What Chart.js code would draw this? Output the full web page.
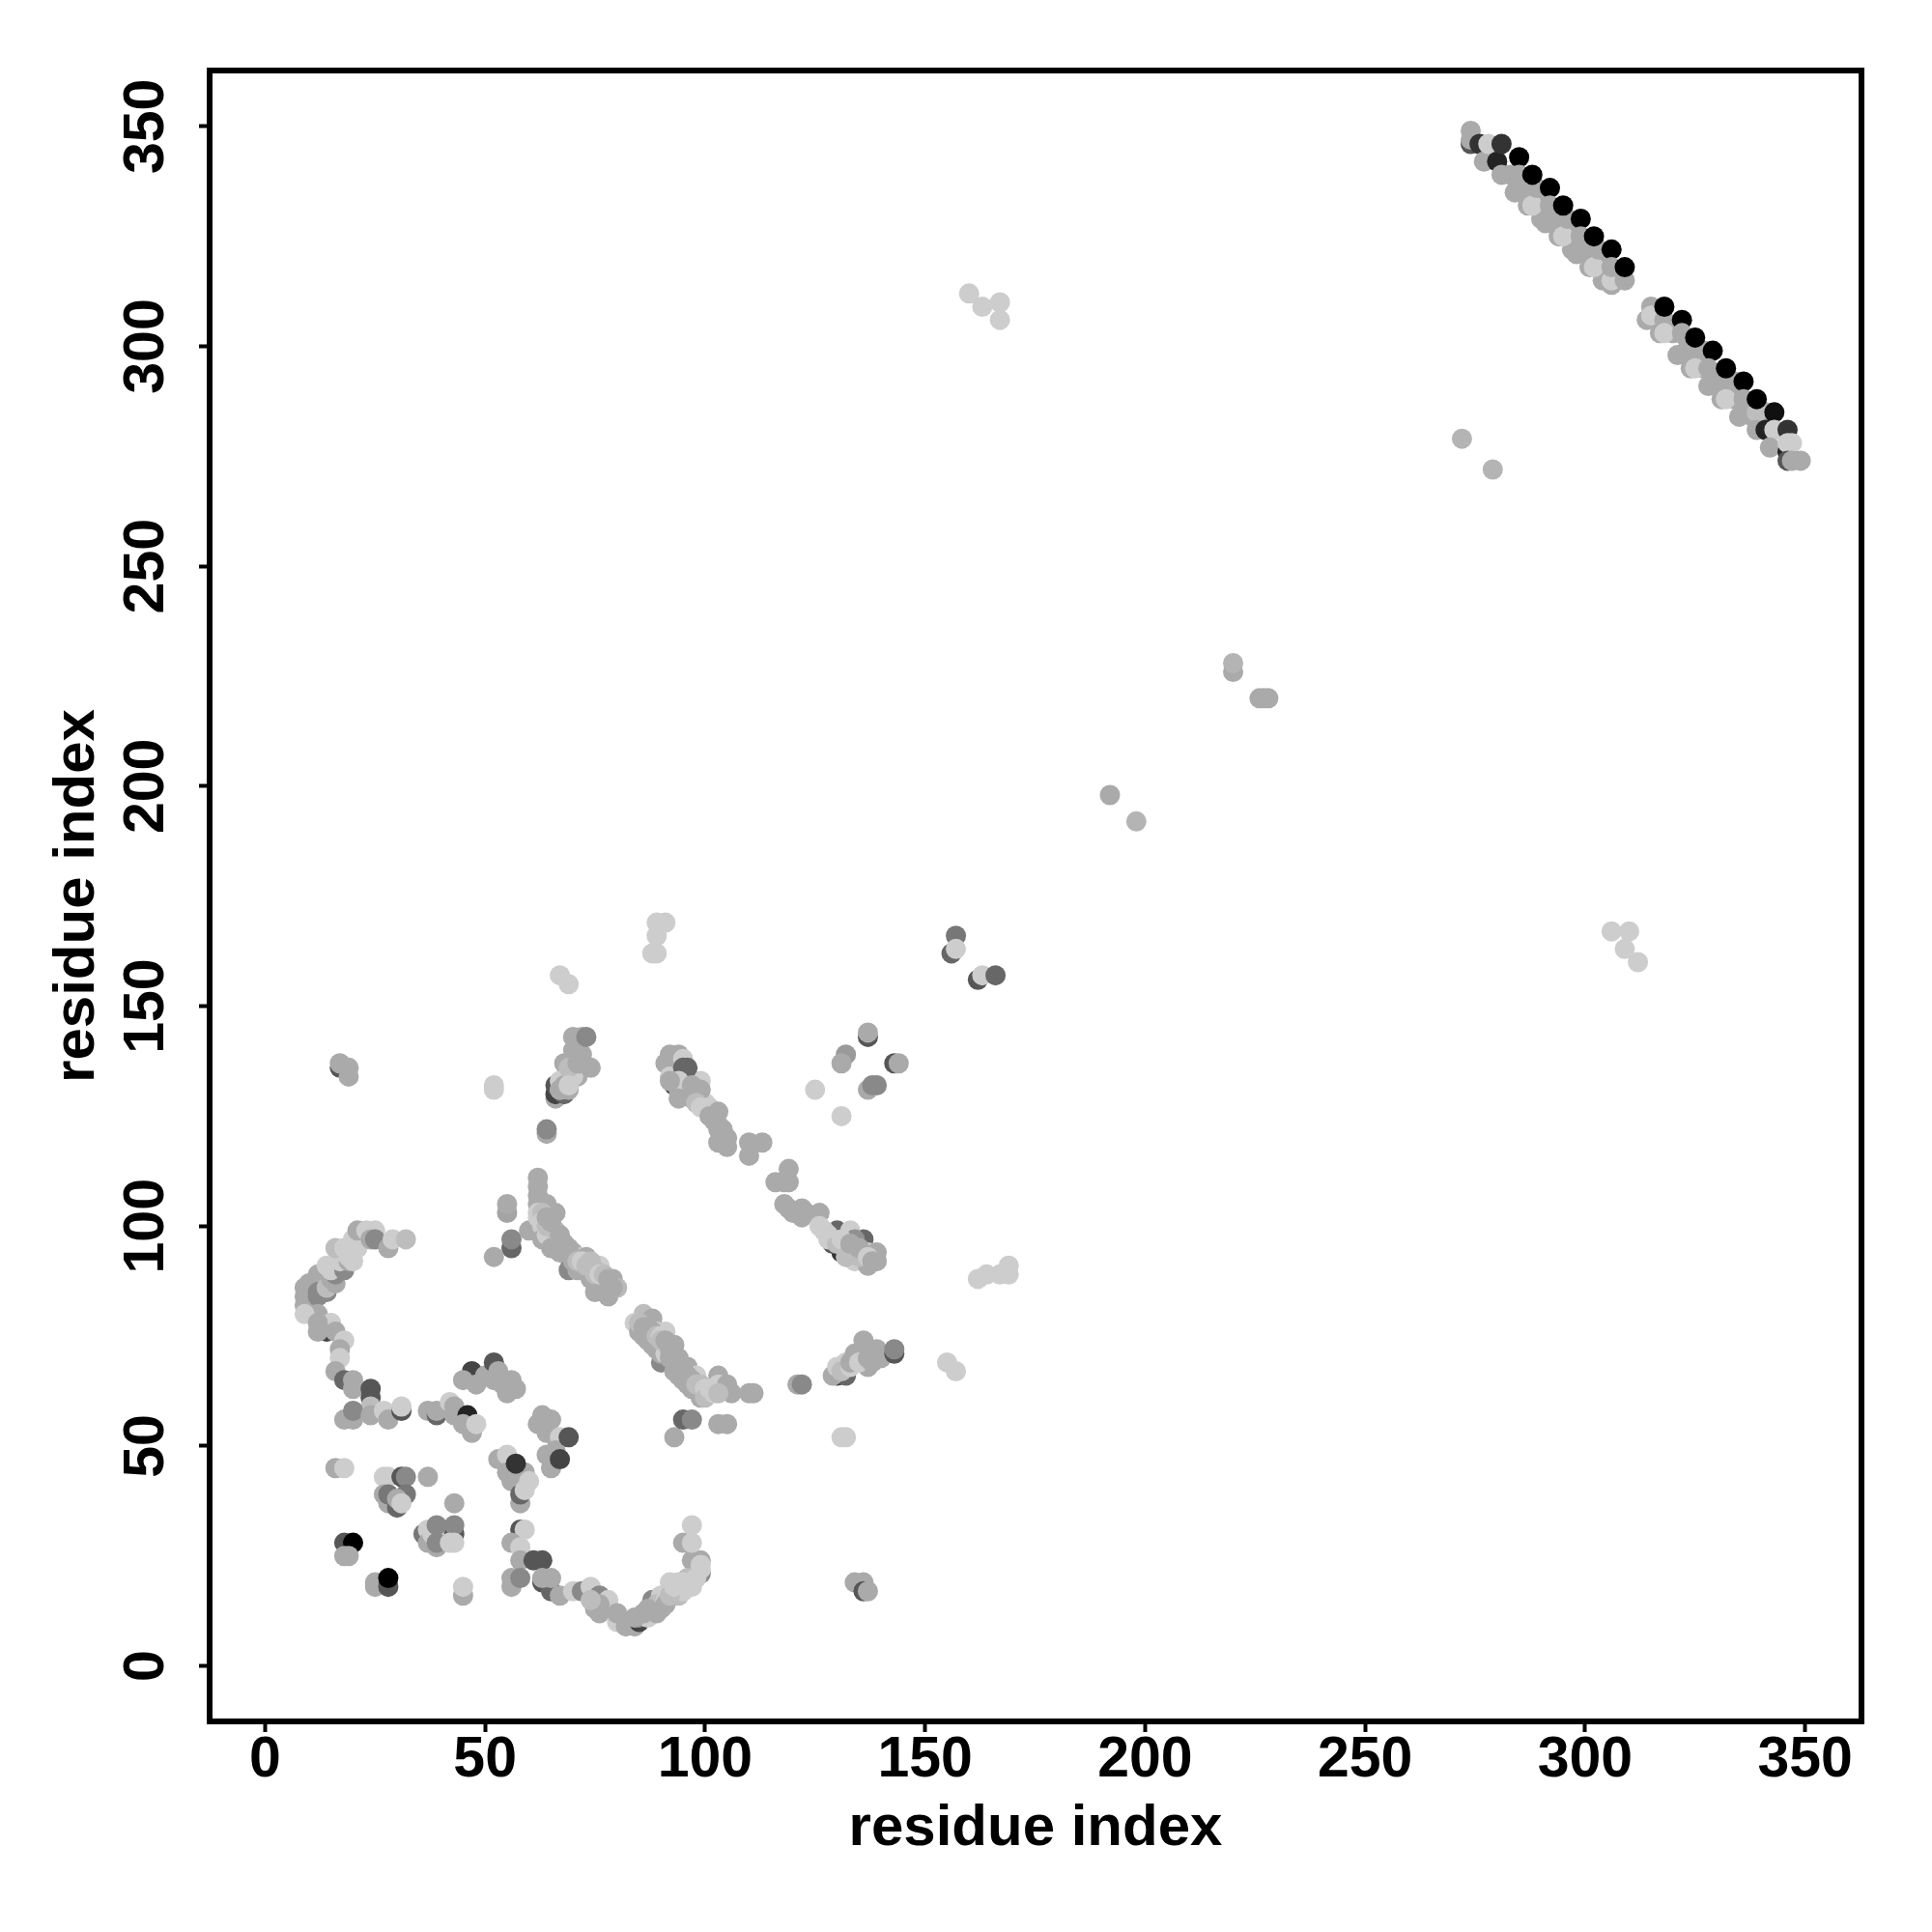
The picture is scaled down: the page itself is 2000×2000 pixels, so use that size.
<!DOCTYPE html>
<html lang="en">
  <head>
    <meta charset="UTF-8" />
    <title>Residue contact map</title>
    <style>
      html, body { margin: 0; padding: 0; background: #fff; }
      canvas { display: block; }
    </style>
    <script src="https://cdn.jsdelivr.net/npm/chart.js"></script>
  </head>
  <body>
    <canvas id="contactMap" width="2000" height="2000"></canvas>
    <script>
      const tickValues = [0, 50, 100, 150, 200, 250, 300, 350];
      const axisLabel = "residue index";

      // score: 0 is the lightest grey, 1 is black. Points are listed in draw order.
      // grey band under the top right sheet
      const sheetBackX = [283,286,290,290,293,297,297,300,304,304,307,320,323,323,327,327,330,334,334,337,338,341];
      const sheetBackY = [339,335,332,329,329,325,322,322,318,315,315,303,299,302,295,299,292,288,292,285,284,285];
      const sheetBackS = [.17,.17,.17,.17,.17,.17,.17,.17,.17,.17,.17,.17,.17,.17,.17,.17,.17,.17,.17,.17,.17,.17];

      // top right antiparallel sheet
      const sheetX = [274,274,274,276,277,278,280,281,281,285,284,287,288,285,289,288,292,291,294,295,292,296,295,299,298,301,302,299,303,302,306,306,306,306,309,309,
                      314,315,315,318,318,322,317,318,322,321,325,325,329,324,325,328,328,332,332,336,331,332,336,335,339,339,343,339,341,343,342,346,346,346,347,346,347,349];
      const sheetY = [346,347,349,346,342,346,342,346,339,343,335,332,332,339,336,339,336,328,325,325,332,329,332,329,321,318,318,325,322,325,322,314,315,318,315,318,
                      306,309,307,306,309,306,303,303,303,298,299,302,299,295,295,295,291,292,295,292,288,288,288,284,285,288,285,281,281,281,277,281,276,278,278,274,274,274];
      const sheetS = [.58,.17,.17,.75,.17,0,.83,.75,.17,1,.17,.17,0,.17,.17,1,1,.17,.17,0,.17,.17,1,1,.17,.17,0,.17,.17,1,1,.17,0,.17,.17,1,
                      .17,.17,0,.17,1,1,.17,0,.17,.17,.17,1,1,.17,0,.17,.17,.17,1,1,.17,0,.17,.17,.08,1,.92,.17,.83,0,.17,.75,.83,0,0,.58,.17,.17];

      // isolated contacts away from the main structures
      const looseX = [160,163,167,167,220,220,226,227,228,192,198,272,279,306,310,309,312,88,89,89,89,91,67,69,157,156,157,162,163,166,17,17,19,19,52,52,64,64,55,55,56,56,52,162,164,167,169,169,155,157,125,131,131,132];
      const looseY = [312,309,310,306,226,228,220,220,220,198,192,279,272,167,167,163,160,162,162,166,169,169,157,155,166,162,163,156,157,157,136,137,136,134,131,132,121,122,103,105,95,97,93,88,89,89,89,91,69,67,131,125,52,52];
      const looseS = [0,0,0,0,.17,.12,.17,.17,.17,.17,.12,.12,.12,0,0,0,0,0,0,0,0,0,0,0,.42,.5,0,.58,0,.5,.58,.17,.17,.17,0,0,.17,.33,.2,.17,.5,.33,.17,0,0,0,0,0,0,0,0,0,0,0];

      // arc at the upper left, from 9/82 up to 32/97
      const arcUpX = [9,9,9,10,10,11,11,12,12,12,13,14,12,14,15,16,14,16,15,18,17,19,18,20,16,18,20,21,19,22,20,21,21,23,25,24,25,28,29,32];
      const arcUpY = [82,84,86,83,87,87,84,89,87,85,85,85,84,86,88,87,91,89,90,90,92,92,94,92,95,95,97,95,93,97,94,97,99,99,99,97,97,95,97,97];
      const arcUpS = [.17,.17,.17,.17,.17,.17,.17,.17,.17,.33,.33,.33,.33,.08,.17,.17,0,.33,0,.33,0,.17,0,0,.08,0,0,0,0,0,0,0,.17,0,0,.17,.33,.17,0,.08];

      // the same arc going down, from 12/80 to 31/59
      const arcDownX = [12,9,14,15,12,12,16,18,17,17,16,18,20,20,24,24,24,18,20,20,24,27,28,31,31];
      const arcDownY = [80,80,76,78,78,76,76,74,72,70,67,65,65,63,63,61,59,56,56,58,57,58,56,58,59];
      const arcDownS = [.17,0,.67,0,.17,.17,.17,0,.17,0,.17,.5,.17,.17,.58,.58,.08,.17,.17,.33,.17,0,.17,.58,0];

      // small clusters at the lower left
      const patchX = [16,18,18,20,18,19,25,25,28,28,45,45,27,28,31,32,37,27,28,32,28,30,30,31,43,
                      36,37,37,39,38,40,41,43,43,39,39,42,43,
                      37,39,39,42,43,43,46,45,47,48,47,45,48,50,52,53,52,54,56,55,57];
      const patchY = [45,45,28,28,25,25,19,18,18,20,16,18,43,43,43,43,43,39,37,39,39,36,38,37,37,
                      30,31,28,27,30,29,31,30,32,32,28,28,28,
                      58,57,58,60,59,57,57,55,53,55,67,65,64,66,69,67,65,64,65,62,63];
      const patchS = [.17,0,.58,1,.17,.17,.17,.17,.58,1,.17,0,0,0,.58,.33,.17,.17,.17,.42,.42,.5,.17,0,.17,
                      .42,0,.17,.17,0,0,0,.58,.33,.33,.33,0,0,
                      .17,.5,.17,0,.17,.17,.83,.17,.17,0,.67,.17,.17,.17,.58,.17,.17,.17,.17,.17,.17];

      // strands running from 53/47 and 62/57 towards the lower arc
      const strandX = [63,65,62,64,66,67,64,66,65,69,67,53,55,55,56,59,57,60,58,58,59,58,59,56,58,58,61,63,56,56,58];
      const strandY = [57,56,55,53,52,52,48,49,45,52,47,47,48,44,42,44,46,42,37,39,40,31,31,28,27,24,24,24,18,20,20];
      const strandS = [.17,.17,.17,.17,.17,0,.17,.17,.17,.58,.67,.17,0,.17,.17,.17,.75,0,.17,.5,0,.58,0,.17,0,.17,.58,.58,.17,.17,.33];

      // arc along the bottom, 63/20 round to 97/32
      const bottomArcX = [63,65,63,65,67,70,72,74,75,76,76,78,80,80,82,84,85,85,87,88,90,88,90,89,91,92,93,94,95,94,96,97,99,99,97,95,97,97,99,99];
      const bottomArcY = [19,17,20,20,16,17,17,18,15,16,12,15,10,12,9,9,10,11,11,13,13,15,16,14,15,19,16,16,17,19,18,19,21,24,24,28,28,32,22,23];
      const bottomArcS = [.58,.5,.17,.17,.17,0,.33,0,.75,.33,.17,0,0,.17,.17,.17,.67,.33,0,.17,.17,.33,0,.08,0,0,0,.08,0,0,0,0,.33,.17,.17,.17,0,0,0,0];

      // strands in the 60-145 range
      const stripeAX = [66,66,66,68,68,67,69,69,71,68,70,72,74,70,70,72,73];
      const stripeAY = [129,130,132,130,133,131,131,134,134,137,136,139,136,140,143,143,143];
      const stripeAS = [.17,.67,.58,.5,0,0,.17,0,.17,.17,0,.17,.17,.17,.17,.17,.33];

      const stripeBX = [92,95,93,92,94,91,95,92,96,97,97,98,99,99,100,99,101,102,103,103,104,103,105,105,110,113,110,119,119,116,118,96,95];
      const stripeBY = [137,130,132,139,139,137,138,134,134,131,129,130,133,128,128,131,127,125,126,122,122,119,120,118,119,119,116,113,110,110,110,136,136];
      const stripeBS = [.5,.5,.67,.17,.17,.17,0,0,.17,.17,.17,0,0,0,0,.17,0,.17,.17,.17,.17,.17,.17,.17,.17,.17,.17,.17,.17,.17,.17,.5,.5];

      const stripeCX = [131,129,130,136,118,119,120,122,122,123,126,126,127,128,133,134,132,134,136,137,137,139,139];
      const stripeCY = [94,96,99,97,105,104,103,104,102,103,103,100,99,98,99,97,95,92,94,91,94,94,92];
      const stripeCS = [.75,.58,.5,.5,.17,.17,.17,.17,.17,.17,.17,0,0,0,0,.3,0,0,.67,.17,0,.17,.17];

      const stripeDX = [62,62,62,62,64,66,60,62,63,63,64,66,65,67,67,69,70,69,71,71,73,72,74,76,75,76,77,78,74,75,77,79,80];
      const stripeDY = [111,109,107,105,105,103,99,103,100,97,98,98,95,96,94,93,94,90,93,90,93,90,91,91,85,87,85,84,88,89,87,88,86];
      const stripeDS = [.17,.17,.17,.17,.17,.17,.17,0,0,.17,0,0,.17,.17,.17,.17,.17,.33,0,.17,.17,.17,.17,0,.17,.17,.17,.17,.17,.08,.17,.17,.1];

      const stripeEX = [86,84,85,86,87,88,89,91,88,89,90,90,91,92,93,93,94,96,95,96,98,103,97,99,99,100,101,103,105,106,110,111];
      const stripeEY = [80,78,76,75,74,79,76,76,73,72,69,71,71,70,73,67,66,68,65,64,66,66,63,61,63,62,62,64,64,62,62,62];
      const stripeES = [.08,0,.17,.17,.17,.17,0,0,.17,.17,.33,.17,0,.17,.17,.17,.17,.17,.17,.17,0,.17,.17,.17,.17,0,0,0,.17,.17,.17,.17];

      const stripeFX = [130,132,129,131,130,132,134,136,137,139,140,143,143,93,95,97,103,105,121,122,137,137,132,131,143,144,139,137,138,134,136,136,137];
      const stripeFY = [66,66,66,68,68,69,71,74,68,72,70,71,72,52,56,56,55,55,64,64,143,144,139,137,137,137,132,131,132,19,19,17,17];
      const stripeFS = [.67,.5,.17,.17,0,0,.17,.17,.17,.17,.17,.58,.33,.17,.5,.33,.17,.17,.17,.33,.58,.17,.25,.17,.58,.17,.33,.17,.33,.17,.17,.58,.17];

      // contacts packed on top of the stripes, where they overlap most
      const denseDX = [62,63,63,64,66,64,65,67,68,69,70,71,72,73,74,75,76,77,78,79,78];
      const denseDY = [102,103,101,100,99,102,101,98,96,95,92,92,92,91,92,90,89,89,88,86,85];
      const denseDS = [0,.08,0,.08,.08,.17,.17,.17,.17,.17,.17,.08,0,.08,.08,.08,0,.08,.17,.17,.17];

      const denseEX = [85,86,87,88,89,90,90,91,92,93,94,95,96,97,98,99,100,100,101,102,103];
      const denseEY = [78,77,77,76,75,75,74,74,72,71,70,68,66,65,64,64,63,61,63,62,62];
      const denseES = [.08,.17,.17,.17,.08,0,.08,.17,.17,.17,.17,.17,.17,.17,.08,.08,0,.08,0,0,.08];

      const denseOtherX = [94,94,96,95,92,94,97,98,98,99,101,102,103,104,104,128,130,131,132,133,135,135,137,138,127,131,133,133,135,135,137,138,138,67,68,70,69,71,72,67,69,84,86,87,89,91,76,75,74,92,93,96,95,97,98];
      const denseOtherY = [133,131,131,132,133,129,132,131,128,127,125,124,123,120,119,97,96,97,93,96,93,95,93,92,99,67,68,69,70,69,70,71,69,133,132,134,136,137,137,131,132,11,12,13,12,14,14,13,15,16,18,20,19,18,20];
      const denseOtherS = [0,.17,.17,0,.17,.17,.17,.17,.08,0,.17,.17,.17,.17,.17,0,.08,0,.08,.17,.08,.17,0,.17,0,.08,0,.17,.17,0,.17,.17,.17,0,.17,0,.08,.17,.17,.17,0,.17,.17,.17,.17,.17,.17,.17,.08,.08,0,.08,0,0,0];

      const groups = [
        [sheetBackX, sheetBackY, sheetBackS],
        [sheetX, sheetY, sheetS],
        [looseX, looseY, looseS],
        [arcUpX, arcUpY, arcUpS],
        [arcDownX, arcDownY, arcDownS],
        [patchX, patchY, patchS],
        [strandX, strandY, strandS],
        [bottomArcX, bottomArcY, bottomArcS],
        [stripeAX, stripeAY, stripeAS],
        [stripeBX, stripeBY, stripeBS],
        [stripeCX, stripeCY, stripeCS],
        [stripeDX, stripeDY, stripeDS],
        [stripeEX, stripeEY, stripeES],
        [stripeFX, stripeFY, stripeFS],
        [denseDX, denseDY, denseDS],
        [denseEX, denseEY, denseES],
        [denseOtherX, denseOtherY, denseOtherS],
      ];

      const points = [];
      const colors = [];
      groups.forEach(([xs, ys, scores]) => {
        if (xs.length !== ys.length || xs.length !== scores.length) {
          throw new Error(`length mismatch ${xs[0]}: ${xs.length} ${ys.length} ${scores.length}`);
        }
        xs.forEach((x, i) => {
          points.push({ x: x, y: ys[i] });
          const grey = Math.round(205 * (1 - scores[i]));
          colors.push(`rgb(${grey},${grey},${grey})`);
        });
      });

      const labelFont = { family: "'Liberation Sans', Arial, sans-serif", weight: "bold" };

      // top and right edges are not axes here, so the whole box is stroked
      const frame = {
        id: "frame",
        afterDatasetsDraw(chart) {
          const { ctx, chartArea: a } = chart;
          ctx.save();
          ctx.lineWidth = 6;
          ctx.strokeStyle = "#000";
          ctx.strokeRect(a.left, a.top, a.right - a.left, a.bottom - a.top);
          ctx.restore();
        },
      };

      new Chart(document.getElementById("contactMap"), {
        type: "scatter",
        data: {
          datasets: [
            {
              data: points,
              pointRadius: 10.5,
              pointHoverRadius: 10.5,
              pointBorderWidth: 0,
              pointBackgroundColor: colors,
            },
          ],
        },
        plugins: [frame],
        options: {
          responsive: false,
          animation: false,
          layout: { padding: { top: 73, right: 73, left: 0, bottom: 0 } },
          plugins: { legend: { display: false }, tooltip: { enabled: false } },
          scales: {
            x: {
              min: -12.6,
              max: 362.8,
              afterFit(scale) { scale.height = 218; },
              afterBuildTicks(scale) { scale.ticks = tickValues.map((v) => ({ value: v })); },
              grid: { drawOnChartArea: false, tickLength: 11, tickWidth: 4, tickColor: "#000" },
              border: { display: false },
              ticks: {
                color: "#000",
                maxRotation: 0,
                padding: -6,
                font: { ...labelFont, size: 59 },
              },
              title: {
                display: true,
                text: axisLabel,
                color: "#000",
                padding: { top: 77, bottom: 71 },
                font: { ...labelFont, size: 60 },
              },
            },
            y: {
              min: -12.6,
              max: 362.7,
              afterFit(scale) { scale.width = 217; },
              afterBuildTicks(scale) { scale.ticks = tickValues.map((v) => ({ value: v })); },
              grid: { drawOnChartArea: false, tickLength: 11, tickWidth: 4, tickColor: "#000" },
              border: { display: false },
              ticks: {
                color: "#000",
                minRotation: 90,
                maxRotation: 90,
                crossAlign: "center",
                padding: 4,
                font: { ...labelFont, size: 59 },
              },
              title: {
                display: true,
                text: axisLabel,
                color: "#000",
                padding: { top: 44, bottom: 0 },
                font: { ...labelFont, size: 60 },
              },
            },
          },
        },
      });
    </script>
  </body>
</html>
